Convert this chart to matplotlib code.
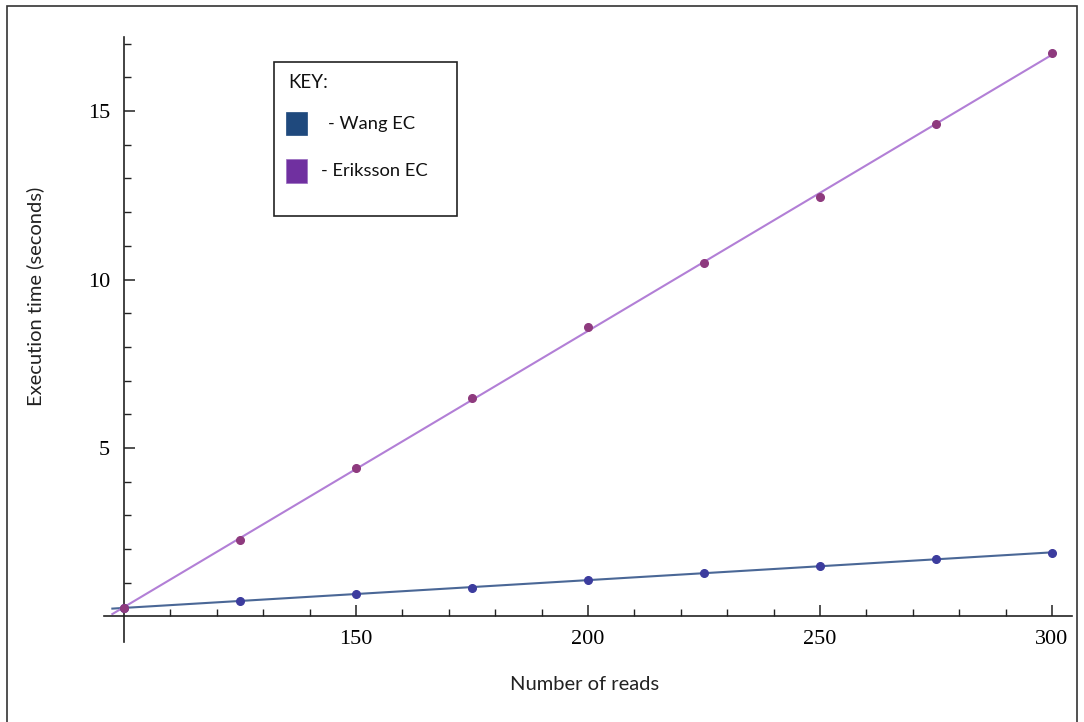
import numpy as np
import matplotlib
matplotlib.use("Agg")
import matplotlib.pyplot as plt
from matplotlib.patches import Rectangle

# ---- data ----
reads = [100, 125, 150, 175, 200, 225, 250, 275, 300]
wang_ec = [0.25, 0.46, 0.67, 0.85, 1.08, 1.29, 1.50, 1.71, 1.88]
eriksson_ec = [0.25, 2.27, 4.41, 6.48, 8.59, 10.49, 12.45, 14.61, 16.72]
x_major = [150, 200, 250, 300]
y_major = [5, 10, 15]
legend_labels = ["- Wang EC", "- Eriksson EC"]
legend_title = "KEY:"
x_label = "Number of reads"
y_label = "Execution time (seconds)"

W, H = 1084, 722
fig = plt.figure(figsize=(W / 100, H / 100), dpi=100)

# axes placement in pixels
left_px, right_px, top_px, bot_px = 104, 1072, 37, 642
ax = fig.add_axes([left_px / W, 1 - bot_px / H, (right_px - left_px) / W, (bot_px - top_px) / H])
ax.set_xlim(95.7, 304.3)
ax.set_ylim(-0.76, 17.2)

wang_line_c = "#4a6796"
wang_pt_c = "#3c3c9e"
erik_line_c = "#b27fd6"
erik_pt_c = "#8e3a7e"

xs = np.array(reads, dtype=float)
xfit = np.array([97.5, 300.5])
pw = np.polyfit(xs, wang_ec, 1)
pe = np.polyfit(xs, eriksson_ec, 1)
ax.plot(xfit, np.polyval(pw, xfit), color=wang_line_c, lw=1.5, zorder=2)
ax.plot(xfit, np.polyval(pe, xfit), color=erik_line_c, lw=1.5, zorder=2)
ax.plot(reads, wang_ec, "o", color=wang_pt_c, ms=5.5, zorder=3)
ax.plot(reads, eriksson_ec, "o", color=erik_pt_c, ms=5.5, zorder=3)

# Mathematica-like axes crossing at (100, 0)
for s in ["top", "right"]:
    ax.spines[s].set_visible(False)
ax.spines["left"].set_position(("data", 100))
ax.spines["bottom"].set_position(("data", 0))
for s in ["left", "bottom"]:
    ax.spines[s].set_linewidth(1.2)
    ax.spines[s].set_color("#222222")

ax.set_xticks(x_major)
ax.set_xticks([v for v in range(110, 301, 10) if v not in x_major], minor=True)
ax.set_yticks(y_major)
ax.set_yticks([v for v in range(1, 18) if v not in y_major], minor=True)
ax.tick_params(which="major", direction="in", length=8, width=1.1, color="#222222", pad=10)
ax.tick_params(which="minor", direction="in", length=5, width=1.0, color="#222222")
for lab in ax.get_xticklabels() + ax.get_yticklabels():
    lab.set_fontfamily("Liberation Serif")
    lab.set_fontsize(16)
ax.patch.set_alpha(0)

# axis labels
fig.text(585 / W, 1 - 685 / H, x_label, ha="center", va="center",
         fontsize=14.5, family="Lato", color="#222222")
fig.text(35 / W, 1 - 296 / H, y_label, ha="center", va="center", rotation=90,
         fontsize=14.5, family="Lato", color="#222222")

# legend box
def px_rect(x0, y0, x1, y1, **kw):
    return Rectangle((x0 / W, 1 - y1 / H), (x1 - x0) / W, (y1 - y0) / H,
                     transform=fig.transFigure, **kw)

fig.patches.append(px_rect(274, 62, 457, 216, facecolor="white", edgecolor="#222222", lw=1.2))
fig.text(288 / W, 1 - 82 / H, legend_title, ha="left", va="center", fontsize=13.5,
         family="Lato", color="#111111")
fig.patches.append(px_rect(286, 112, 307, 135, facecolor="#1f497d", edgecolor="#1f497d", lw=0.5))
fig.patches.append(px_rect(286, 159, 307, 183, facecolor="#7030a0", edgecolor="#9a6cc0", lw=0.5))
fig.text(328 / W, 1 - 124 / H, legend_labels[0], ha="left", va="center", fontsize=13.2,
         family="Lato", color="#111111")
fig.text(321 / W, 1 - 171 / H, legend_labels[1], ha="left", va="center", fontsize=13.2,
         family="Lato", color="#111111")

# outer frame
fig.patches.append(px_rect(7, 6, 1077, 740, facecolor="none", edgecolor="#333333", lw=1.2))

fig.savefig("out.png", dpi=100)
